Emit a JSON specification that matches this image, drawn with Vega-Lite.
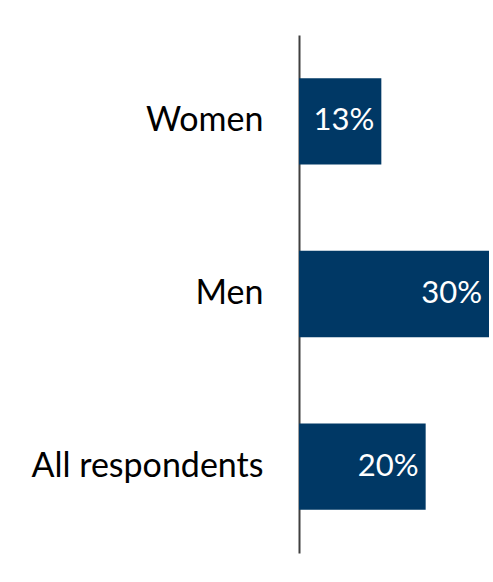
{
  "$schema": "https://vega.github.io/schema/vega-lite/v6.json",
  "width": 190,
  "height": 518,
  "autosize": {"type": "none"},
  "padding": {"left": 299, "top": 35, "right": 4, "bottom": 29},
  "background": "white",
  "config": {"view": {"stroke": null}, "font": "Lato"},
  "data": {"values": [
    {"group": "Women", "value": 0.13, "label": "13%"},
    {"group": "Men", "value": 0.30, "label": "30%"},
    {"group": "All respondents", "value": 0.20, "label": "20%"}
  ]},
  "encoding": {
    "y": {"field": "group", "type": "nominal", "sort": null,
      "scale": {"paddingInner": 0.5, "paddingOuter": 0.25},
      "axis": {"title": null, "ticks": false, "labelPadding": 36, "labelFontSize": 34, "labelLimit": 0, "labelColor": "#000000", "labelFont": "Lato", "domainColor": "#404040", "domainWidth": 2}},
    "x": {"field": "value", "type": "quantitative", "scale": {"domain": [0, 0.30], "nice": false}, "axis": null}
  },
  "layer": [
    {"mark": {"type": "bar", "color": "#003865"}},
    {"mark": {"type": "text", "align": "right", "dx": -7, "color": "white", "fontSize": 31, "font": "Lato", "baseline": "middle"},
     "encoding": {"text": {"field": "label"}}}
  ]
}
